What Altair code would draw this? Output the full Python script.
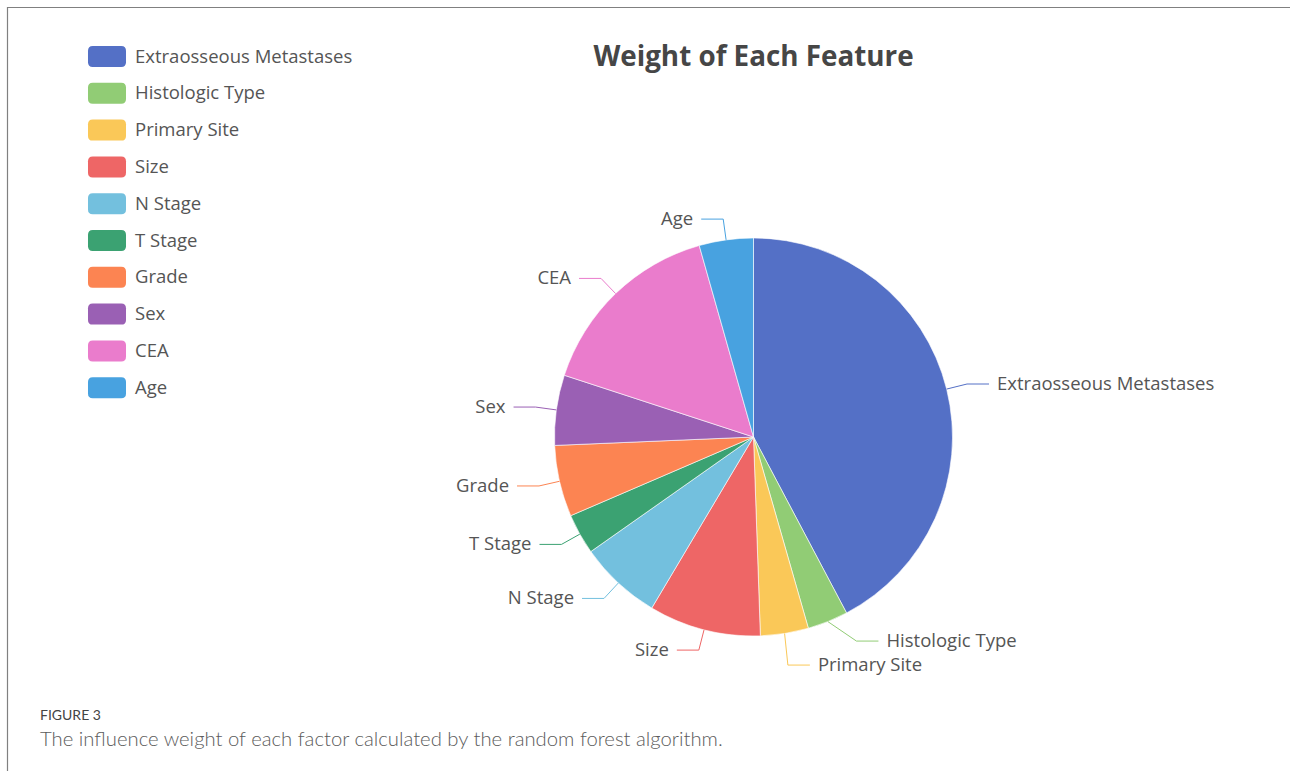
import altair as alt
import pandas as pd

# ---- data ----
NAMES = ["Extraosseous Metastases", "Histologic Type", "Primary Site", "Size",
         "N Stage", "T Stage", "Grade", "Sex", "CEA", "Age"]
WEIGHTS = [0.423, 0.033, 0.039, 0.091, 0.067, 0.033, 0.058, 0.057, 0.156, 0.044]
COLORS = ["#5470c6", "#91cc75", "#fac858", "#ee6666", "#73c0de",
          "#3ba272", "#fc8452", "#9a60b4", "#ea7ccc", "#48a2e0"]
TITLE = ["Weight of Each Feature"]
FIG_LABEL = ["FIGURE 3"]
CAPTION = ["The influence weight of each factor calculated by the random forest algorithm."]

# ---- layout constants ----
W, H = 1290, 771
CX, CY, R = 753.5, 437, 199
L1, L2, TGAP, YGAP = 21, 22, 8, 24
RA = R + L1
FONT = "Open Sans"
TXT = "#555555"

df = pd.DataFrame({"name": NAMES, "value": WEIGHTS, "order": list(range(len(NAMES)))})
color_scale = alt.Scale(domain=NAMES, range=COLORS)

RRECT = ("M-1.36,-1 L1.36,-1 Q1.81,-1 1.81,-0.55 L1.81,0.55 Q1.81,1 1.36,1 "
         "L-1.36,1 Q-1.81,1 -1.81,0.55 L-1.81,-0.55 Q-1.81,-1 -1.36,-1 Z")

legend = alt.Legend(orient="none", legendX=96.5, legendY=46, title=None,
                    symbolType=RRECT, symbolSize=441, symbolStrokeWidth=0,
                    labelFont=FONT, labelFontSize=18.5, labelColor=TXT,
                    labelOffset=17.5, rowPadding=15.8, padding=0, labelLimit=400)

pie = alt.Chart(df).mark_arc(radius=R, stroke="white", strokeWidth=0.6).encode(
    theta=alt.Theta("value:Q", stack=True),
    color=alt.Color("name:N", scale=color_scale, legend=legend),
    order=alt.Order("order:Q"),
    x=alt.value(CX), y=alt.value(CY),
)

# label geometry: radial segment, then horizontal segment; overlapping labels on a
# side are pushed down, and x re-aligned on an ellipse (as ECharts does)
geo = (
    alt.Chart(df)
    .transform_joinaggregate(total="sum(value)")
    .transform_window(cum="sum(value)", sort=[alt.SortField("order")], frame=[None, 0])
    .transform_calculate(mid="2*PI*(datum.cum - datum.value/2)/datum.total")
    .transform_calculate(sx="sin(datum.mid)", sy="-cos(datum.mid)")
    .transform_calculate(
        side="datum.sx >= 0 ? 1 : -1",
        x0=f"{CX} + {R}*datum.sx", y0=f"{CY} + {R}*datum.sy",
        x1n=f"{CX} + {RA}*datum.sx", y1n=f"{CY} + {RA}*datum.sy",
    )
    .transform_window(prev="lag(y1n)", groupby=["side"], sort=[alt.SortField("y1n")])
    .transform_calculate(
        y1=f"datum.prev == null ? datum.y1n : max(datum.y1n, datum.prev + {YGAP})"
    )
    .transform_calculate(
        moved="datum.y1 > datum.y1n + 0.01 ? 1 : 0",
        semi=f"datum.y1 > {CY} ? 1 : 0",
        dy=f"abs(datum.y1 - {CY})",
        dxn=f"abs(datum.x1n - {CX})",
    )
    .transform_calculate(
        rb=f"datum.dxn < {RA} ? sqrt(datum.dy*datum.dy/(1 - datum.dxn*datum.dxn/({RA}*{RA}))) : {RA}"
    )
    .transform_joinaggregate(anymoved="max(moved)", groupby=["side"])
    .transform_window(rbsemi="first_value(rb)", groupby=["side", "semi"],
                      sort=[alt.SortField("dy", order="descending")], frame=[None, None])
    .transform_calculate(
        x1=(f"datum.anymoved > 0 ? {CX} + datum.side*sqrt(max(0, 1 - datum.dy*datum.dy/"
            f"(datum.rbsemi*datum.rbsemi)))*{RA} : datum.x1n")
    )
    .transform_calculate(
        x2=f"datum.x1 + datum.side*{L2}",
        xt=f"datum.x1 + datum.side*{L2 + TGAP}",
    )
)

col_nolegend = alt.Color("name:N", scale=color_scale, legend=None)

seg1 = geo.mark_rule(strokeWidth=1).encode(
    x=alt.X("x0:Q", scale=None), y=alt.Y("y0:Q", scale=None),
    x2="x1:Q", y2="y1:Q", color=col_nolegend)
seg2 = geo.mark_rule(strokeWidth=1).encode(
    x=alt.X("x1:Q", scale=None), y=alt.Y("y1:Q", scale=None),
    x2="x2:Q", color=col_nolegend)

lab_r = geo.transform_filter("datum.side > 0").mark_text(
    align="left", baseline="middle", font=FONT, fontSize=18.5, color=TXT).encode(
    x=alt.X("xt:Q", scale=None), y=alt.Y("y1:Q", scale=None), text="name:N")
lab_l = geo.transform_filter("datum.side < 0").mark_text(
    align="right", baseline="middle", font=FONT, fontSize=18.5, color=TXT).encode(
    x=alt.X("xt:Q", scale=None), y=alt.Y("y1:Q", scale=None), text="name:N")

title = alt.Chart(pd.DataFrame({"t": TITLE})).mark_text(
    align="center", baseline="middle", font=FONT, fontSize=27.8, fontWeight="bold",
    color="#464646").encode(x=alt.value(CX), y=alt.value(58), text="t:N")

fig_lab = alt.Chart(pd.DataFrame({"t": FIG_LABEL})).mark_text(
    align="left", baseline="middle", font="Lato", fontSize=14, color="#444444").encode(
    x=alt.value(40), y=alt.value(716), text="t:N")
caption = alt.Chart(pd.DataFrame({"t": CAPTION})).mark_text(
    align="left", baseline="middle", font="Lato", fontSize=20.3, fontWeight=300,
    color="#5c5c5c").encode(x=alt.value(40), y=alt.value(740), text="t:N")

frame_top = alt.Chart(pd.DataFrame({"a": [0]})).mark_rule(color="#808080", strokeWidth=1.2).encode(
    x=alt.value(7), x2=alt.value(W), y=alt.value(7.5))
frame_left = alt.Chart(pd.DataFrame({"a": [0]})).mark_rule(color="#808080", strokeWidth=1.2).encode(
    x=alt.value(7.5), y=alt.value(7), y2=alt.value(H))

chart = (
    alt.layer(frame_top, frame_left, pie, seg1, seg2, lab_r, lab_l, title, fig_lab, caption)
    .resolve_legend(color="independent")
    .properties(width=W, height=H, padding=0, autosize="none", background="white")
    .configure_view(stroke=None)
)

chart.save("out.html", embed_options={"renderer": "svg", "actions": False})
